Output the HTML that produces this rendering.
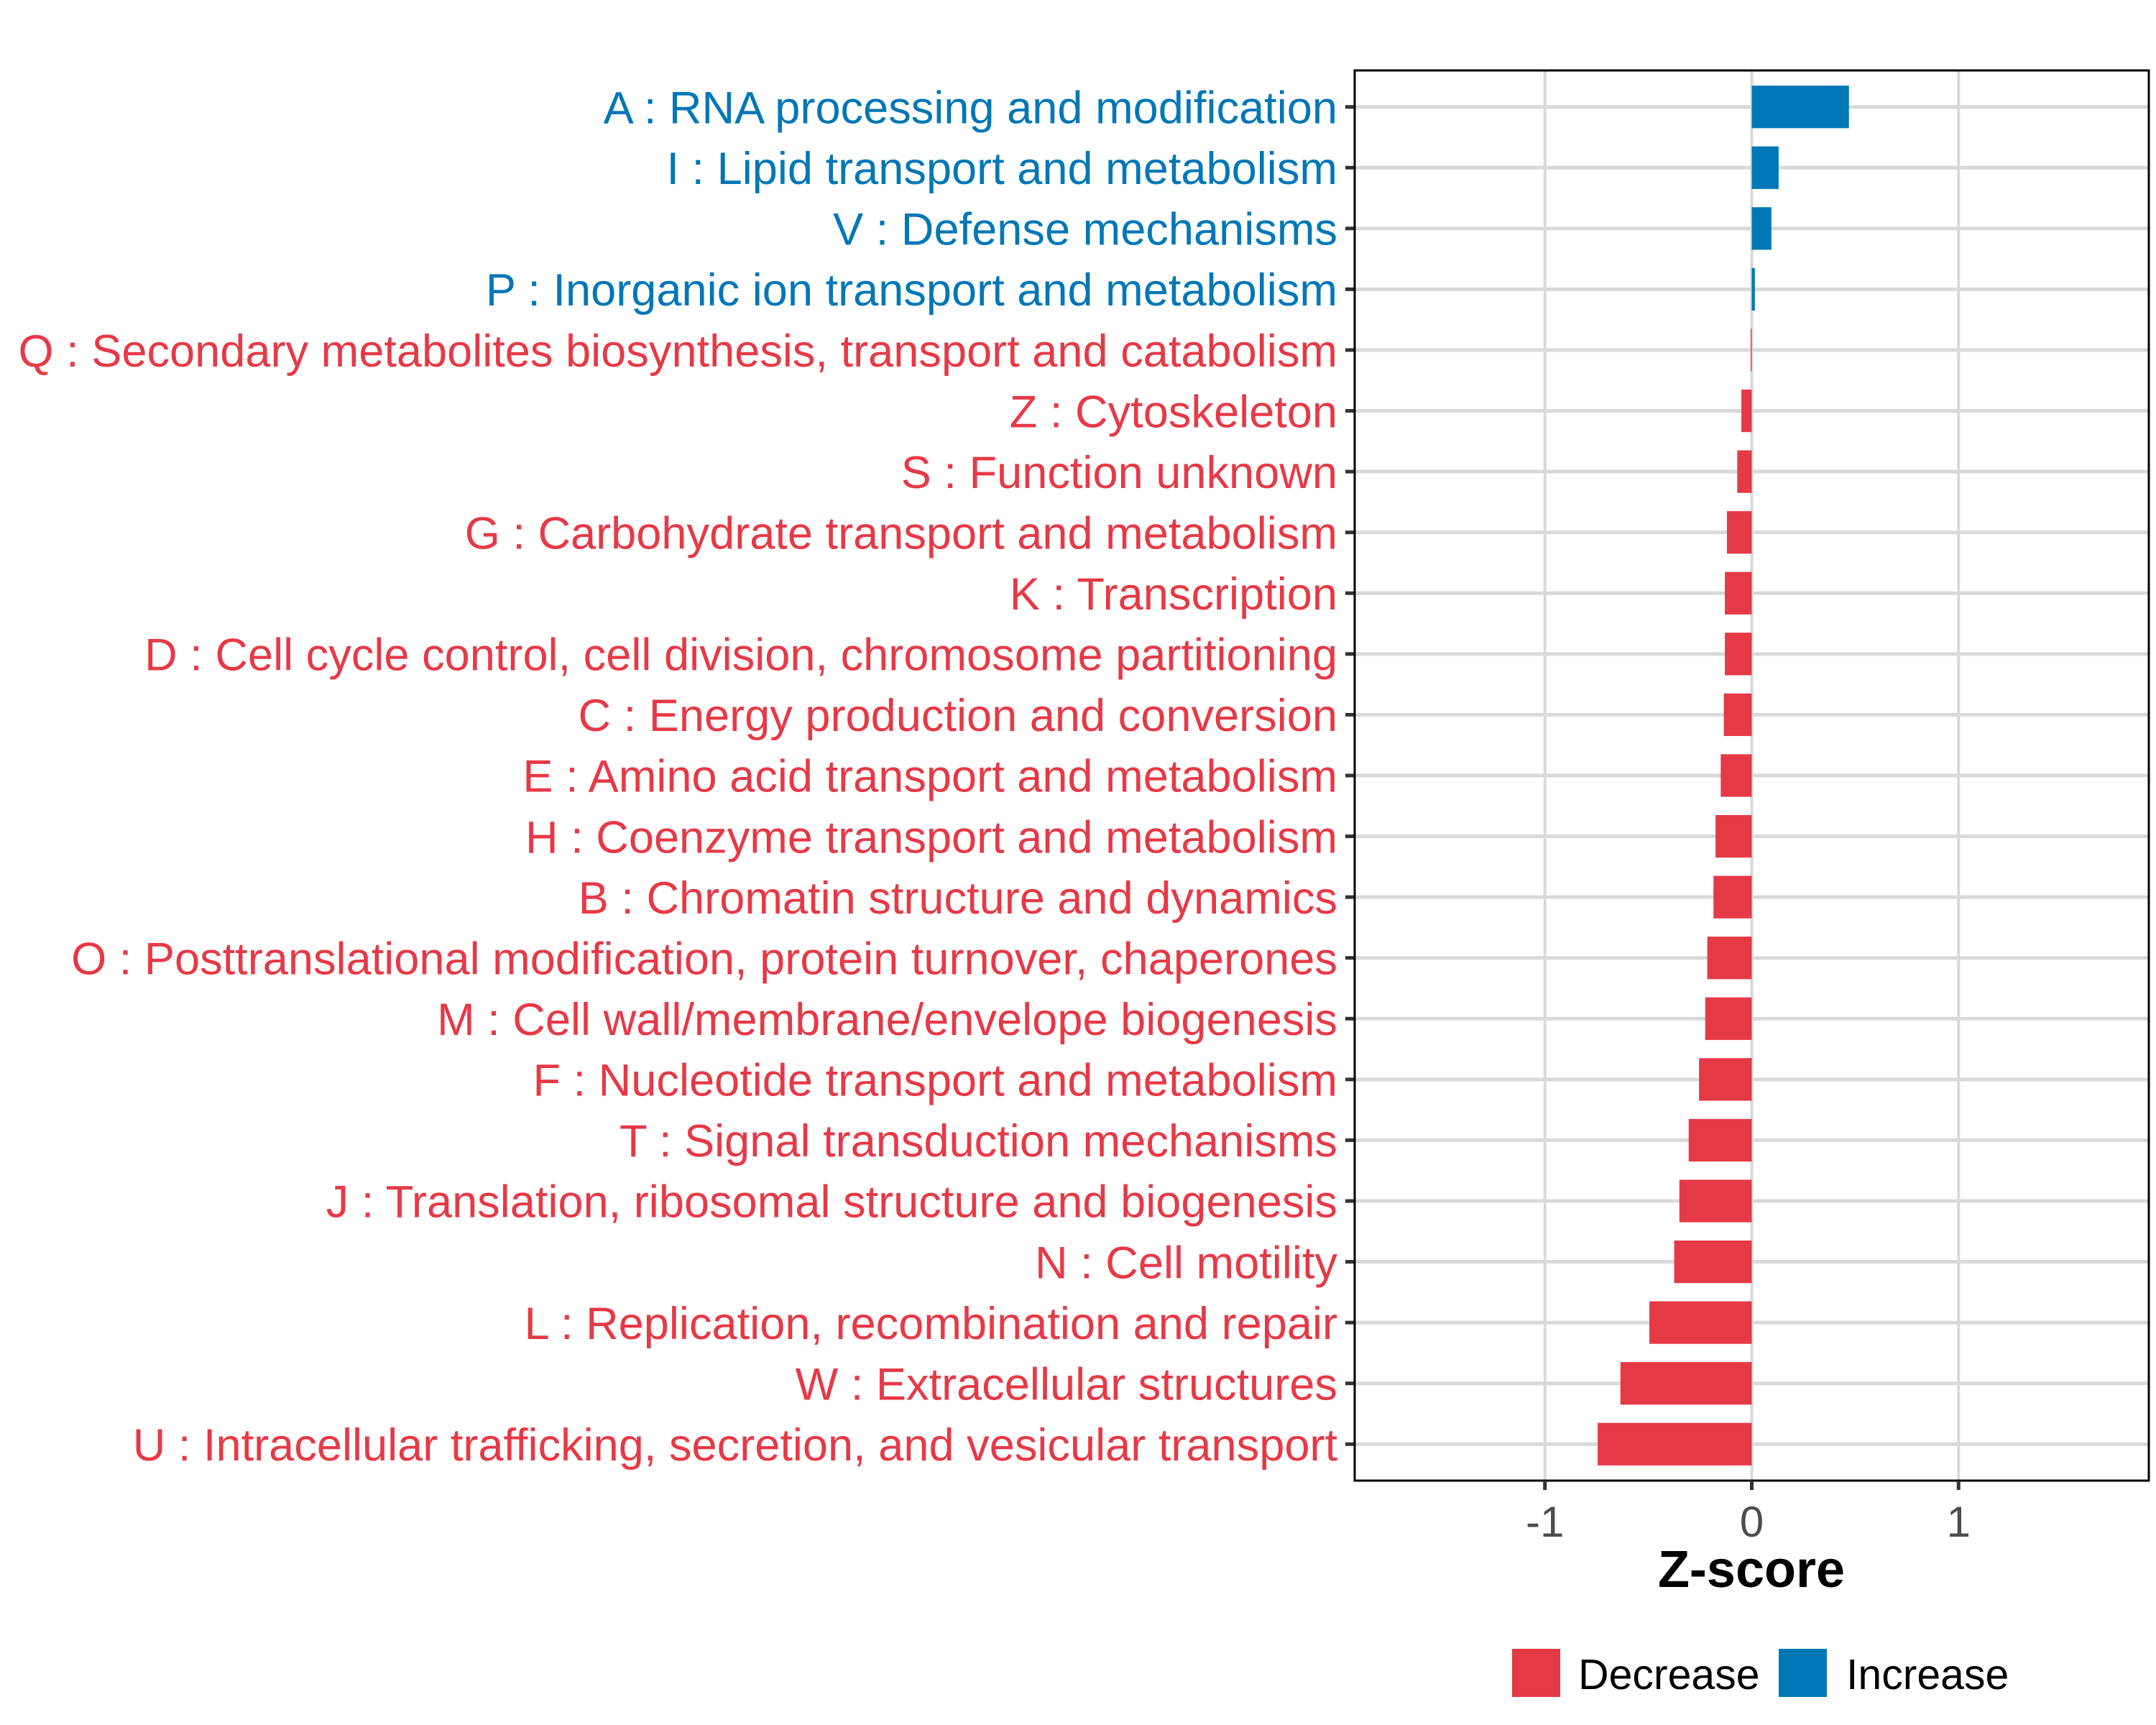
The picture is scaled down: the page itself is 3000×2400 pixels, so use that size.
<!DOCTYPE html>
<html><head><meta charset="utf-8"><style>
html,body{margin:0;padding:0;background:#fff}
svg{display:block;font-family:"Liberation Sans",Arial,sans-serif}
</style></head><body>
<svg id="chart" width="3000" height="2400" viewBox="0 0 3000 2400">
<g id="grid"></g><g id="bars"></g><g id="labels"></g><g id="axes"></g>
<text x="2437" y="2208" text-anchor="middle" font-size="72" font-weight="bold" fill="#000">Z-score</text>
<g>
<rect x="2104" y="2294" width="67" height="67" fill="#e63946"/>
<text x="2196" y="2350" font-size="59" fill="#000">Decrease</text>
<rect x="2475" y="2294" width="67" height="67" fill="#0077b6"/>
<text x="2569" y="2350" font-size="59" fill="#000">Increase</text>
</g>
</svg>
<script>
const categories = ["A : RNA processing and modification","I : Lipid transport and metabolism","V : Defense mechanisms","P : Inorganic ion transport and metabolism","Q : Secondary metabolites biosynthesis, transport and catabolism","Z : Cytoskeleton","S : Function unknown","G : Carbohydrate transport and metabolism","K : Transcription","D : Cell cycle control, cell division, chromosome partitioning","C : Energy production and conversion","E : Amino acid transport and metabolism","H : Coenzyme transport and metabolism","B : Chromatin structure and dynamics","O : Posttranslational modification, protein turnover, chaperones","M : Cell wall/membrane/envelope biogenesis","F : Nucleotide transport and metabolism","T : Signal transduction mechanisms","J : Translation, ribosomal structure and biogenesis","N : Cell motility","L : Replication, recombination and repair","W : Extracellular structures","U : Intracellular trafficking, secretion, and vesicular transport"];
const zscores = [0.47,0.13,0.095,0.015,-0.005,-0.05,-0.07,-0.12,-0.13,-0.13,-0.135,-0.15,-0.175,-0.185,-0.215,-0.225,-0.255,-0.305,-0.35,-0.375,-0.495,-0.635,-0.745];
const xTicks = [-1,0,1];
const xTickLabels = ["-1","0","1"];

const NS="http://www.w3.org/2000/svg";
const L=1885,R=2990,T=98,B=2060,xmin=-1.92,xmax=1.92;
const x=v=>L+(v-xmin)/(xmax-xmin)*(R-L);
const n=categories.length, step=(B-T)/(n+0.2);
const y=i=>T+step*0.6+i*step;
const bh=step*0.7;
const RED="#e63946",BLUE="#0077b6";
function mk(tag,attrs,parent){const e=document.createElementNS(NS,tag);for(const k in attrs)e.setAttribute(k,attrs[k]);parent.appendChild(e);return e;}
const grid=document.getElementById('grid'),bars=document.getElementById('bars'),labels=document.getElementById('labels'),axes=document.getElementById('axes');
mk('rect',{x:L,y:T,width:R-L,height:B-T,fill:'#fff'},grid);
xTicks.forEach(t=>{const g=mk('line',{x1:x(t),x2:x(t),y1:T,y2:B,stroke:'#d9d9d9','stroke-width':4},grid);

});
categories.forEach((c,i)=>{const g=mk('line',{x1:L,x2:R,y1:y(i),y2:y(i),stroke:'#d9d9d9','stroke-width':5},grid);

});
zscores.forEach((v,i)=>{
const x0=Math.min(x(0),x(v)),w=Math.max(Math.abs(x(v)-x(0)),1);
const r=mk('rect',{x:x0,y:y(i)-bh/2,width:w,height:bh,fill:v>=0?BLUE:RED},bars);


});
const texts=[];
categories.forEach((c,i)=>{
const t=mk('text',{x:1861,y:y(i)+20,'text-anchor':'end','font-size':56,fill:zscores[i]>=0?BLUE:RED},labels);
t.textContent=c;


texts.push(t);
const tk=mk('line',{x1:L-13,x2:L,y1:y(i),y2:y(i),stroke:'#333','stroke-width':5},axes);


});
let maxw=0;texts.forEach(t=>{maxw=Math.max(maxw,t.getComputedTextLength());});
if(maxw>0){const fs=56*1836/maxw;texts.forEach(t=>{t.setAttribute('font-size',fs);t.setAttribute('y',parseFloat(t.getAttribute('y'))-20+fs*0.36);});}
const fr=mk('rect',{x:L,y:T,width:R-L,height:B-T,fill:'none',stroke:'#000','stroke-width':3},axes);


xTicks.forEach((t,i)=>{
const tk=mk('line',{x1:x(t),x2:x(t),y1:B,y2:B+13,stroke:'#333','stroke-width':5},axes);


const lb=mk('text',{x:x(t),y:B+78,'text-anchor':'middle','font-size':60,fill:'#4d4d4d'},axes);
lb.textContent=xTickLabels[i];


});
</script>
</body></html>
